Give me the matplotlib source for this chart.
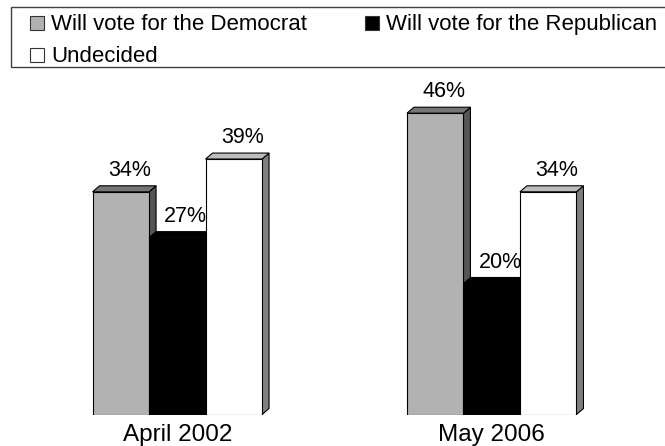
import matplotlib
matplotlib.use("Agg")
import matplotlib.pyplot as plt
from matplotlib.patches import Polygon, Rectangle

plt.rcParams['font.family'] = ['Liberation Sans', 'DejaVu Sans']

# ---- data ----
periods = ["April 2002", "May 2006"]
series_names = ["Will vote for the Democrat", "Will vote for the Republican", "Undecided"]
democrat = [34, 46]
republican = [27, 20]
undecided = [39, 34]
value_labels = [["34%", "27%", "39%"], ["46%", "20%", "34%"]]

# ---- styles ----
front_colors = ["#B2B2B2", "#000000", "#FFFFFF"]
top_colors = ["#767676", "#000000", "#BDBDBD"]
side_colors = ["#555555", "#000000", "#7F7F7F"]

W, H = 665, 446
fig = plt.figure(figsize=(W / 100, H / 100), dpi=100)

# axes geometry (pixels)
base_px = 414.5          # y pixel of zero line (from top)
top_px = 75.0
px_per_unit_y = 6.55
g0_px, g1_px = 177.3, 491.7
px_per_unit_x = g1_px - g0_px

ax = fig.add_axes([0, (H - base_px) / H, 1, (base_px - top_px) / H])
ax.set_xlim(-g0_px / px_per_unit_x, (W - g0_px) / px_per_unit_x)
ax.set_ylim(0, (base_px - top_px) / px_per_unit_y)
ax.axis("off")

bar_w = 56.5 / px_per_unit_x
dxd = 7.0 / px_per_unit_x
dyd = 6.0 / px_per_unit_y
gap = 10.0 / px_per_unit_y

series = [democrat, republican, undecided]
for gi, period in enumerate(periods):
    for si, vals in enumerate(series):
        h = vals[gi]
        xc = gi + (si - 1) * bar_w
        x0, x1 = xc - bar_w / 2, xc + bar_w / 2
        z = 2 + si
        ax.add_patch(Polygon([(x1, 0), (x1 + dxd, dyd), (x1 + dxd, h + dyd), (x1, h)],
                             closed=True, facecolor=side_colors[si], edgecolor="black",
                             lw=0.8, zorder=z))
        ax.add_patch(Polygon([(x0, h), (x1, h), (x1 + dxd, h + dyd), (x0 + dxd, h + dyd)],
                             closed=True, facecolor=top_colors[si], edgecolor="black",
                             lw=0.8, zorder=z))
        ax.bar(xc, h, bar_w, color=front_colors[si], edgecolor="black", lw=0.8, zorder=z)
        ax.text(xc + dxd / 2 + 5.0 / px_per_unit_x, h + dyd + gap, value_labels[gi][si],
                ha="center", va="baseline", fontsize=15.5, zorder=10)
    ax.text(gi, -(440.5 - base_px) / px_per_unit_y, period, ha="center", va="baseline",
            fontsize=17.5, clip_on=False)

# ---- legend (drawn in figure pixel space) ----
def fx(px):
    return px / W

def fy(py):
    return 1 - py / H

fig.patches.append(Rectangle((fx(11), fy(66.7)), fx(W + 10 - 11), (66.7 - 6.7) / H,
                             transform=fig.transFigure, facecolor="white",
                             edgecolor="#404040", lw=1.0))
legend_items = [(0, 30, 30), (1, 365, 30), (2, 30, 61.7)]
for si, sx, sy in legend_items:
    fig.patches.append(Rectangle((fx(sx), fy(sy)), 14 / W, 14 / H, transform=fig.transFigure,
                                 facecolor=front_colors[si], edgecolor="#333333", lw=0.8))
    fig.text(fx(sx + 21), fy(sy), series_names[si], ha="left", va="baseline", fontsize=16)

fig.savefig("out.png", dpi=100)
